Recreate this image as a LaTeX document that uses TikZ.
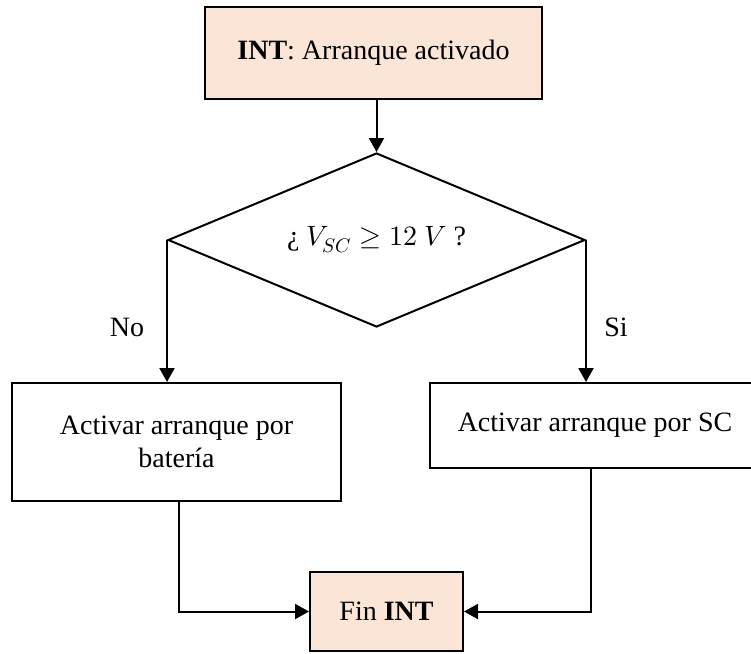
\documentclass[tikz,border=0pt]{standalone}
\usepackage{fontspec}
\usepackage{unicode-math}
\setmainfont{Liberation Serif}
\setmathfont{Latin Modern Math}
\usetikzlibrary{shapes.geometric,arrows.meta}
\definecolor{peach}{HTML}{FBE5D6}
\begin{document}
\begin{tikzpicture}[x=1pt,y=-1pt,
  every node/.style={font=\fontsize{28}{33}\selectfont},
  box/.style={draw, line width=2pt, inner sep=0pt, align=center},
  arr/.style={line width=2pt, -{Triangle[length=14pt,width=15pt]}}]
\clip (0,0) rectangle (751,653);
\fill[white] (0,0) rectangle (751,653);

% process blocks
\node[box, fill=peach, minimum width=337pt, minimum height=92pt] (start) at (373.5,53) {\textbf{INT}: Arranque activado};
\node[draw, diamond, aspect=2.4, line width=2pt, minimum width=417pt, minimum height=174pt, inner sep=0pt] (dec) at (376.5,240) {¿ $V_{SC}\geq 12\ V$ ?};
\node[box, minimum width=329pt, minimum height=118pt] (bat) at (176.5,442) {Activar arranque por\\batería};
\node[box, minimum width=330pt, minimum height=85pt] (sc) at (595,425.5) {Activar arranque por SC};
\node[box, fill=peach, minimum width=153pt, minimum height=79pt] (fin) at (386.5,611.5) {Fin \textbf{INT}};

% branch labels
\node (no) at (127,327) {No};
\node (si) at (616,327) {Si};

% connectors
\draw[arr] (start.south -| dec.north) -- (dec.north);
\draw[arr] (dec.west) -- (dec.west |- bat.north);
\draw[arr] (dec.east) -- (dec.east |- sc.north);
\draw[arr] ([xshift=2.5pt]bat.south) |- (fin.west);
\draw[arr] ([xshift=-4pt]sc.south) |- (fin.east);
\end{tikzpicture}
\end{document}
